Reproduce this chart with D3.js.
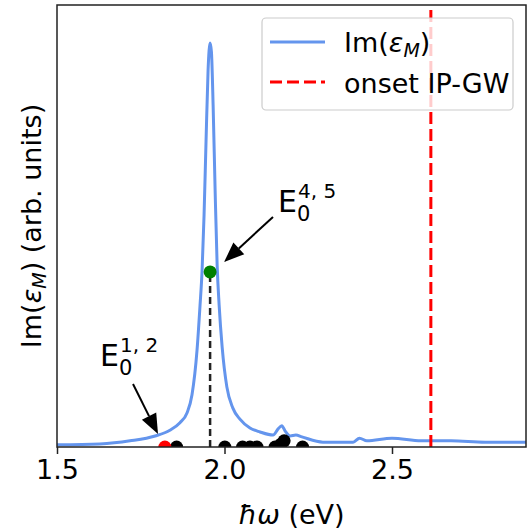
<!DOCTYPE html>
<html>
<head>
<meta charset="utf-8">
<script src="https://cdn.jsdelivr.net/npm/d3@7"></script>
<style>
  body { margin: 0; background: #fff; }
  text { font-family: "DejaVu Sans", sans-serif; fill: #000; }
</style>
</head>
<body>
<div id="viz"></div>
<script>
var w = 528;
var h = 532;

// spectrum Im(eps_M), arbitrary units
var energy = [1.500, 1.628, 1.718, 1.793, 1.837, 1.867, 1.888, 1.903, 1.918, 1.927,
  1.933, 1.939, 1.945, 1.951, 1.957, 1.961, 1.966, 1.972, 1.978, 1.984,
  1.993, 2.007, 2.025, 2.046, 2.076, 2.106, 2.145, 2.160, 2.171, 2.181,
  2.196, 2.213, 2.231, 2.294, 2.384, 2.403, 2.425, 2.500, 2.587, 2.676,
  2.778, 2.900];
var imEps = [0.005, 0.007, 0.014, 0.025, 0.038, 0.055, 0.077, 0.118, 0.219, 0.321,
  0.398, 0.525, 0.695, 0.853, 0.914, 0.894, 0.774, 0.581, 0.412, 0.321,
  0.226, 0.136, 0.088, 0.063, 0.043, 0.034, 0.027, 0.041, 0.048, 0.036,
  0.025, 0.027, 0.023, 0.011, 0.011, 0.020, 0.014, 0.020, 0.014, 0.014,
  0.011, 0.011];

// excitation energies
var darkE = [1.857, 2.001, 2.054, 2.076, 2.097, 2.151, 2.168, 2.178, 2.233];
var darkY = [0, 0, 0, 0, 0, 0, 0.006, 0.014, 0];
var redE = [1.822];
var brightE = 1.957;
var brightY = 0.396;
var onsetGW = 2.616;

var xTicks = [1.5, 2.0, 2.5];

var margin = { left: 57, right: 2, top: 5, bottom: 85 };

var svg = d3.select("#viz")
    .append("svg")
    .attr("width", w)
    .attr("height", h);

var x = d3.scaleLinear()
    .domain([1.5, 2.9])
    .range([margin.left, w - margin.right]);

var y = d3.scaleLinear()
    .domain([0, 1])
    .range([h - margin.bottom, margin.top]);

svg.append("defs").append("clipPath")
    .attr("id", "plotclip")
    .append("rect")
    .attr("x", margin.left)
    .attr("y", margin.top)
    .attr("width", w - margin.left - margin.right)
    .attr("height", h - margin.top - margin.bottom);

var plot = svg.append("g").attr("clip-path", "url(#plotclip)");

var line = d3.line()
    .x(function (d, i) { return x(energy[i]); })
    .y(function (d) { return y(d); })
    .curve(d3.curveMonotoneX);

plot.append("path")
    .datum(imEps)
    .attr("d", line)
    .attr("fill", "none")
    .attr("stroke", "#6495ed")
    .attr("stroke-width", 3);

// onset
plot.append("line")
    .attr("x1", x(onsetGW)).attr("x2", x(onsetGW))
    .attr("y1", y.range()[0]).attr("y2", y.range()[1])
    .attr("stroke", "red")
    .attr("stroke-width", 3)
    .attr("stroke-dasharray", "12,5");

// bright exciton drop line
plot.append("line")
    .attr("x1", x(brightE)).attr("x2", x(brightE))
    .attr("y1", y(0)).attr("y2", y(brightY))
    .attr("stroke", "#222")
    .attr("stroke-width", 2.5)
    .attr("stroke-dasharray", "7,4");

plot.selectAll("circle.dark")
    .data(darkE)
    .enter().append("circle")
    .attr("class", "dark")
    .attr("cx", function (d) { return x(d); })
    .attr("cy", function (d, i) { return y(darkY[i]); })
    .attr("r", 6.5)
    .attr("fill", "black");

plot.selectAll("circle.red")
    .data(redE)
    .enter().append("circle")
    .attr("class", "red")
    .attr("cx", function (d) { return x(d); })
    .attr("cy", y(0))
    .attr("r", 6.5)
    .attr("fill", "red");

plot.append("circle")
    .attr("cx", x(brightE))
    .attr("cy", y(brightY))
    .attr("r", 6.5)
    .attr("fill", "green");

// frame
svg.append("rect")
    .attr("x", margin.left)
    .attr("y", margin.top)
    .attr("width", w - margin.left - margin.right)
    .attr("height", h - margin.top - margin.bottom)
    .attr("fill", "none")
    .attr("stroke", "#222")
    .attr("stroke-width", 1.5);

// x axis
var xAxis = svg.append("g")
    .attr("transform", "translate(0," + y(0) + ")")
    .call(d3.axisBottom(x).tickValues(xTicks).tickFormat(d3.format(".1f")).tickSize(7).tickPadding(6));
xAxis.select(".domain").remove();
xAxis.selectAll("line").attr("stroke", "#222").attr("stroke-width", 1.5);
xAxis.selectAll("text")
    .style("font-family", "DejaVu Sans")
    .style("font-size", "27px")
    .attr("fill", "#000");

// axis labels
var xl = svg.append("text")
    .attr("x", (margin.left + w - margin.right) / 2)
    .attr("y", 524)
    .attr("text-anchor", "middle")
    .style("font-size", "27px");
xl.append("tspan").style("font-style", "italic").text("ħω");
xl.append("tspan").text(" (eV)");

var yl = svg.append("text")
    .attr("transform", "translate(41," + ((margin.top + h - margin.bottom) / 2) + ") rotate(-90)")
    .attr("text-anchor", "middle")
    .style("font-size", "27px");
yl.append("tspan").text("Im(");
yl.append("tspan").style("font-style", "italic").text("ε");
yl.append("tspan").style("font-style", "italic").style("font-size", "19px").attr("dy", 5).text("M");
yl.append("tspan").attr("dy", -5).text(") (arb. units)");

// annotations
function arrow(x1, y1, x2, y2) {
    var ang = Math.atan2(y2 - y1, x2 - x1);
    var hl = 20, hw = 8;
    var bx = x2 - hl * Math.cos(ang), by = y2 - hl * Math.sin(ang);
    svg.append("line")
        .attr("x1", x1).attr("y1", y1).attr("x2", bx).attr("y2", by)
        .attr("stroke", "black").attr("stroke-width", 2);
    var px = -Math.sin(ang) * hw, py = Math.cos(ang) * hw;
    svg.append("path")
        .attr("d", "M" + x2 + "," + y2 + "L" + (bx + px) + "," + (by + py) + "L" + (bx - px) + "," + (by - py) + "Z")
        .attr("fill", "black");
}

// E_0^{sup} as one text element
function label(x0, yb, sup) {
    var t = svg.append("text").attr("x", x0).attr("y", yb).style("font-size", "30px");
    t.append("tspan").text("E");
    t.append("tspan").attr("x", x0 + 19).attr("y", yb + 9).style("font-size", "21px").text("0");
    t.append("tspan").attr("x", x0 + 20).attr("y", yb - 14).style("font-size", "20px").text(sup);
}

label(278, 212, "4, 5");
arrow(273, 217, x(brightE) + 14, 262);
label(100, 366, "1, 2");
arrow(133, 384, 158, 434);

// legend
var lg = svg.append("g");
lg.append("rect")
    .attr("x", 262).attr("y", 18)
    .attr("width", 251).attr("height", 92)
    .attr("rx", 4)
    .attr("fill", "white").attr("fill-opacity", 0.8)
    .attr("stroke", "#ccc").attr("stroke-width", 1.2);
lg.append("line")
    .attr("x1", 270).attr("x2", 325).attr("y1", 42).attr("y2", 42)
    .attr("stroke", "#6495ed").attr("stroke-width", 3);
lg.append("line")
    .attr("x1", 270).attr("x2", 325).attr("y1", 82).attr("y2", 82)
    .attr("stroke", "red").attr("stroke-width", 3).attr("stroke-dasharray", "12,5");
var t1 = lg.append("text").attr("x", 344).attr("y", 52).style("font-size", "27px");
t1.append("tspan").text("Im(");
t1.append("tspan").style("font-style", "italic").text("ε");
t1.append("tspan").style("font-style", "italic").style("font-size", "19px").attr("dy", 5).text("M");
t1.append("tspan").attr("dy", -5).text(")");
lg.append("text").attr("x", 344).attr("y", 93).style("font-size", "27px").text("onset IP-GW");
</script>
</body>
</html>
